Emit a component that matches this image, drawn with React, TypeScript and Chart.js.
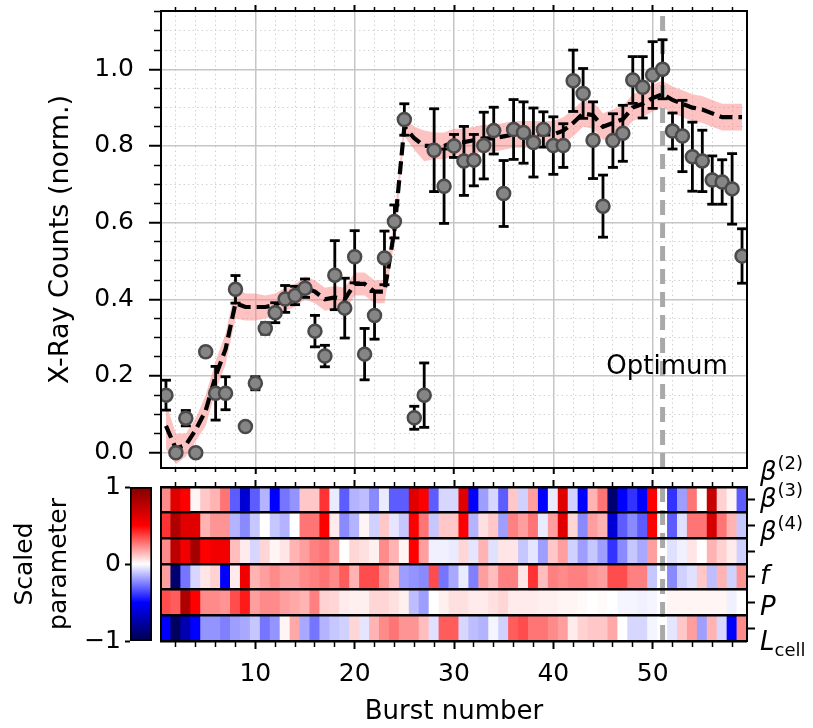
import React, { useEffect, useRef } from 'react';
import { Chart, registerables } from 'chart.js';

Chart.register(...registerables);
const FONT = "'DejaVu Sans', 'Noto Sans', sans-serif";
Chart.defaults.font.family = FONT;
Chart.defaults.color = '#000';

// ---------------- data ----------------
const bursts = [1, 2, 3, 4, 5, 6, 7, 8, 9, 10, 11, 12, 13, 14, 15, 16, 17, 18, 19, 20,
  21, 22, 23, 24, 25, 26, 27, 28, 29, 30, 31, 32, 33, 34, 35, 36, 37, 38, 39, 40,
  41, 42, 43, 44, 45, 46, 47, 48, 49, 50, 51, 52, 53, 54, 55, 56, 57, 58, 59];

const xrayCounts = [
  0.150, 0.000, 0.090, 0.000, 0.263, 0.155, 0.155, 0.426, 0.068, 0.181,
  0.324, 0.365, 0.401, 0.410, 0.429, 0.317, 0.252, 0.463, 0.377, 0.511,
  0.257, 0.358, 0.508, 0.603, 0.869, 0.091, 0.150, 0.789, 0.695, 0.800,
  0.761, 0.763, 0.801, 0.840, 0.676, 0.843, 0.835, 0.809, 0.843, 0.801,
  0.801, 0.970, 0.937, 0.815, 0.643, 0.814, 0.833, 0.972, 0.953, 0.985,
  1.000, 0.839, 0.826, 0.772, 0.761, 0.711, 0.706, 0.688, 0.513];

const xrayErr = [
  0.039, 0.000, 0.020, 0.000, 0.012, 0.070, 0.043, 0.036, 0.000, 0.017,
  0.015, 0.026, 0.035, 0.024, 0.024, 0.041, 0.028, 0.090, 0.078, 0.068,
  0.067, 0.062, 0.070, 0.043, 0.041, 0.030, 0.084, 0.108, 0.097, 0.030,
  0.090, 0.067, 0.087, 0.061, 0.086, 0.078, 0.080, 0.090, 0.046, 0.075,
  0.057, 0.080, 0.065, 0.100, 0.081, 0.070, 0.073, 0.061, 0.080, 0.087,
  0.077, 0.047, 0.093, 0.090, 0.080, 0.063, 0.058, 0.092, 0.071];

const modelMean = [
  0.07, 0.01, 0.02, 0.06, 0.11, 0.20, 0.27, 0.39, 0.38, 0.38,
  0.38, 0.385, 0.40, 0.41, 0.43, 0.42, 0.40, 0.405, 0.40, 0.44,
  0.44, 0.42, 0.42, 0.58, 0.85, 0.82, 0.80, 0.80, 0.80, 0.81,
  0.81, 0.815, 0.82, 0.82, 0.825, 0.83, 0.83, 0.83, 0.83, 0.83,
  0.84, 0.86, 0.885, 0.88, 0.85, 0.86, 0.87, 0.90, 0.91, 0.925,
  0.935, 0.92, 0.91, 0.90, 0.895, 0.885, 0.875, 0.875, 0.875];

const modelSpread = [
  0.06, 0.04, 0.03, 0.03, 0.04, 0.04, 0.04, 0.04, 0.035, 0.035,
  0.03, 0.03, 0.03, 0.03, 0.03, 0.03, 0.03, 0.03, 0.03, 0.03,
  0.03, 0.03, 0.03, 0.03, 0.025, 0.03, 0.04, 0.035, 0.035, 0.035,
  0.035, 0.035, 0.035, 0.035, 0.035, 0.035, 0.035, 0.035, 0.035, 0.035,
  0.035, 0.035, 0.035, 0.035, 0.035, 0.035, 0.035, 0.035, 0.035, 0.035,
  0.035, 0.035, 0.035, 0.035, 0.035, 0.035, 0.035, 0.035, 0.035];

const optimumBurst = 51;
const optimumLabel = 'Optimum';
const optimumLabelPos = { x: 51.45, y: 0.224 };

// scaled parameters (heatmap rows, top to bottom)
const beta2 = [
  0.23, 0.62, 0.50, 0.02, 0.11, 0.15, 0.27, -0.32, -0.62, -0.32,
  -0.15, -0.50, -0.27, -0.21, 0.11, 0.11, 0.40, -0.04, -0.32, -0.15,
  -0.13, -0.23, -0.04, -0.32, -0.32, 0.62, 0.50, -0.32, -0.08, -0.08,
  0.62, -0.50, -0.19, -0.08, -0.32, 0.11, -0.09, 0.19, -0.50, -0.04,
  0.62, -0.09, -0.50, 0.15, 0.27, -0.90, -0.50, -0.40, -0.50, 0.50,
  0.00, -0.40, -0.19, 0.27, 0.00, 0.72, 0.09, 0.02, -0.32];
const beta3 = [
  0.40, 0.82, 0.62, 0.62, 0.15, 0.21, 0.21, -0.15, -0.23, -0.11,
  0.00, -0.11, -0.15, 0.00, 0.27, 0.27, 0.50, 0.04, -0.23, -0.15,
  0.02, -0.09, 0.11, -0.05, -0.11, 0.50, 0.27, -0.11, 0.11, 0.11,
  0.50, -0.15, 0.06, 0.11, -0.19, 0.25, 0.19, 0.27, -0.04, 0.19,
  0.62, 0.08, -0.23, 0.19, 0.15, -0.62, -0.32, -0.23, -0.32, 0.50,
  0.00, -0.32, -0.06, 0.27, 0.27, 0.66, 0.27, 0.15, -0.11];
const beta4 = [
  0.23, 0.77, 0.55, 0.86, 0.50, 0.55, 0.55, 0.13, 0.04, -0.08,
  0.08, 0.02, 0.05, 0.15, 0.19, 0.25, 0.27, 0.19, 0.00, 0.08,
  0.06, 0.03, 0.23, 0.15, 0.02, 0.50, 0.19, -0.03, -0.03, -0.04,
  0.08, -0.05, 0.15, -0.06, 0.05, 0.05, -0.11, -0.05, -0.19, 0.11,
  0.19, -0.09, -0.19, -0.11, -0.19, -0.40, -0.23, -0.11, -0.17, 0.19,
  0.00, -0.06, -0.03, 0.05, 0.00, 0.15, 0.09, 0.04, -0.09];
const fParam = [
  0.19, -0.90, -0.27, -0.08, 0.05, 0.09, -0.50, 0.04, 0.55, 0.15,
  0.19, 0.23, 0.19, 0.19, 0.23, 0.25, 0.27, 0.23, 0.32, 0.15,
  0.35, 0.35, 0.21, 0.13, -0.19, -0.21, -0.23, 0.35, -0.27, -0.17,
  -0.04, -0.25, 0.19, 0.13, 0.25, 0.25, 0.05, 0.40, 0.13, 0.25,
  0.23, 0.25, 0.25, 0.21, 0.19, 0.35, 0.35, 0.25, 0.25, -0.11,
  0.00, -0.23, -0.09, -0.06, 0.11, -0.13, 0.15, -0.09, 0.21];
const pParam = [
  0.35, 0.32, 0.82, 0.50, 0.23, 0.23, 0.21, 0.35, 0.45, 0.19,
  0.23, 0.23, 0.19, 0.17, 0.15, 0.25, 0.09, 0.08, 0.04, 0.03,
  0.03, 0.08, 0.08, 0.06, 0.03, -0.13, -0.19, 0.00, 0.03, 0.06,
  0.06, 0.04, 0.04, 0.06, 0.08, 0.04, 0.04, 0.04, 0.03, 0.03,
  0.02, 0.02, 0.01, 0.00, 0.01, 0.00, -0.02, -0.02, -0.03, -0.02,
  0.00, 0.02, 0.02, 0.02, 0.02, 0.02, 0.02, -0.03, 0.00];
const lCell = [
  -0.50, -0.95, -0.72, -0.50, -0.21, -0.21, -0.25, -0.19, -0.17, -0.11,
  -0.27, -0.21, 0.02, 0.17, -0.17, -0.27, -0.15, -0.11, -0.09, 0.08,
  -0.05, 0.15, 0.23, 0.27, 0.21, 0.21, 0.13, -0.06, 0.32, 0.32,
  -0.08, -0.13, -0.15, -0.02, -0.09, 0.32, 0.35, 0.27, 0.27, 0.23,
  0.19, 0.04, 0.09, 0.11, 0.11, 0.17, 0.00, -0.08, -0.08, -0.02,
  0.00, -0.05, 0.11, 0.19, -0.19, 0.15, -0.08, -0.50, 0.23];
const paramRows = [beta2, beta3, beta4, fParam, pParam, lCell];
const paramRowIndex = [0, 1, 2, 3, 4, 5];
const paramRowEdges = [-0.5, 0.5, 1.5, 2.5, 3.5, 4.5, 5.5];

// ticks
const xMajorTicks = [10, 20, 30, 40, 50];
const xTickLabels = ['10', '20', '30', '40', '50'];
const xMinorTicks = [2, 4, 6, 8, 12, 14, 16, 18, 22, 24, 26, 28, 32, 34, 36, 38, 42, 44, 46, 48, 52, 54, 56, 58];
const yMajorTicks = [0, 0.2, 0.4, 0.6, 0.8, 1.0];
const yTickLabels = ['0.0', '0.2', '0.4', '0.6', '0.8', '1.0'];
const yMinorTicks = [0.05, 0.1, 0.15, 0.25, 0.3, 0.35, 0.45, 0.5, 0.55, 0.65, 0.7, 0.75, 0.85, 0.9, 0.95, 1.05, 1.1, 1.15];
const cbTicks = [-1, 0, 1];
const cbTickLabels = ['\u22121', '0', '1'];

// axis ranges
const X_MIN = 0.5, X_MAX = 59.5;
const Y_MIN = -0.04, Y_MAX = 1.152;

// ---------------- helpers ----------------
const SEISMIC: [number, number[]][] = [
  [0, [0, 0, 76.5]], [0.25, [0, 0, 255]], [0.5, [255, 255, 255]], [0.75, [255, 0, 0]], [1, [127.5, 0, 0]]];
function seismic(v: number): string {
  const t = Math.max(0, Math.min(1, (v + 1) / 2));
  for (let i = 1; i < SEISMIC.length; i++) {
    const [t1, c1] = SEISMIC[i];
    const [t0, c0] = SEISMIC[i - 1];
    if (t <= t1) {
      const f = (t - t0) / (t1 - t0);
      const c = c0.map((a, k) => Math.round(a + (c1[k] - a) * f));
      return `rgb(${c[0]},${c[1]},${c[2]})`;
    }
  }
  return 'rgb(127,0,0)';
}
const fixW = (w: number) => (s: any) => { s.width = w; s.paddingTop = 0; s.paddingBottom = 0; s.paddingLeft = 0; s.paddingRight = 0; };
const fixH = (h: number) => (s: any) => { s.height = h; s.paddingTop = 0; s.paddingBottom = 0; s.paddingLeft = 0; s.paddingRight = 0; };
const setTicks = (vals: number[]) => (s: any) => { s.ticks = vals.map((v) => ({ value: v })); };
const BORDER = { display: true, color: '#000', width: 2, z: 1 };
const NOBORDER = { display: false };
const MAJOR_GRID = '#c6c6c6';
const MINOR_GRID = '#d2d2d2';
const TICK_FONT = 25;

const optimumTextPlugin = {
  id: 'optimumText',
  afterDatasetsDraw(chart: any) {
    const { ctx, scales } = chart;
    ctx.save();
    ctx.font = `26px ${FONT}`;
    ctx.fillStyle = '#000';
    ctx.textAlign = 'center';
    ctx.textBaseline = 'middle';
    ctx.fillText(optimumLabel, scales.x.getPixelForValue(optimumLabelPos.x), scales.y.getPixelForValue(optimumLabelPos.y));
    ctx.restore();
  },
};

function topConfig(): any {
  const pts = bursts.map((b, i) => ({ x: b, y: xrayCounts[i] }));
  const stems: any[] = [];
  const caps: any[] = [];
  bursts.forEach((b, i) => {
    const lo = xrayCounts[i] - xrayErr[i];
    const hi = xrayCounts[i] + xrayErr[i];
    stems.push({ x: b, y: lo }, { x: b, y: hi }, { x: b, y: null });
    caps.push({ x: b, y: lo }, { x: b, y: hi });
  });
  const bandLo = bursts.map((b, i) => ({ x: b, y: modelMean[i] - modelSpread[i] }));
  const bandHi = bursts.map((b, i) => ({ x: b, y: modelMean[i] + modelSpread[i] }));
  const mean = bursts.map((b, i) => ({ x: b, y: modelMean[i] }));
  return {
    type: 'scatter',
    data: {
      datasets: [
        { type: 'line', data: bandLo, borderWidth: 0, pointRadius: 0, fill: false, order: 8 },
        { type: 'line', data: bandHi, borderWidth: 0, pointRadius: 0, fill: '-1', backgroundColor: 'rgba(250,128,128,0.47)', order: 7 },
        { type: 'line', data: [{ x: optimumBurst, y: Y_MIN }, { x: optimumBurst, y: Y_MAX }], borderColor: '#a9a9a9', borderWidth: 5, borderDash: [15, 8], pointRadius: 0, order: 6 },
        { type: 'line', data: mean, borderColor: '#000', borderWidth: 4.2, borderDash: [13, 6], pointRadius: 0, order: 5 },
        { type: 'line', data: stems, borderColor: '#000', borderWidth: 2.8, pointRadius: 0, spanGaps: false, order: 4 },
        { type: 'scatter', data: caps, pointStyle: 'line', pointRadius: 5, pointBorderColor: '#000', pointBorderWidth: 2.8, order: 3 },
        { type: 'scatter', data: pts, pointRadius: 6.5, pointBackgroundColor: '#858585', pointBorderColor: '#4a4a4a', pointBorderWidth: 2.5, order: 1 },
      ],
    },
    options: {
      responsive: false, maintainAspectRatio: false, animation: false, devicePixelRatio: 1, events: [],
      layout: { padding: 0 },
      plugins: { legend: { display: false }, tooltip: { enabled: false } },
      scales: {
        x: {
          type: 'linear', position: 'bottom', min: X_MIN, max: X_MAX, weight: 2, offset: false,
          afterBuildTicks: setTicks(xMajorTicks), ticks: { display: false },
          grid: { color: MAJOR_GRID, lineWidth: 1.5, tickLength: 6, tickColor: '#000', tickWidth: 2, offset: false },
          border: BORDER, afterFit: fixH(260),
        },
        xMinor: {
          type: 'linear', position: 'bottom', min: X_MIN, max: X_MAX, weight: 1, offset: false,
          afterBuildTicks: setTicks(xMinorTicks), ticks: { display: false },
          grid: { color: MINOR_GRID, lineWidth: 1, tickLength: 4, tickColor: '#000', tickWidth: 1.5, borderDash: [1.5, 3], offset: false },
          border: { display: false, dash: [1.5, 3] }, afterFit: fixH(0),
        },
        xTop: {
          type: 'linear', position: 'top', min: X_MIN, max: X_MAX, weight: 2, offset: false,
          afterBuildTicks: setTicks(xMajorTicks), ticks: { display: false },
          grid: { drawOnChartArea: false, tickLength: 6, tickColor: '#000', tickWidth: 2 },
          border: BORDER, afterFit: fixH(11),
        },
        xTopMinor: {
          type: 'linear', position: 'top', min: X_MIN, max: X_MAX, weight: 1, offset: false,
          afterBuildTicks: setTicks(xMinorTicks), ticks: { display: false },
          grid: { drawOnChartArea: false, tickLength: 4, tickColor: '#000', tickWidth: 1.5 },
          border: NOBORDER, afterFit: fixH(0),
        },
        y: {
          type: 'linear', position: 'left', min: Y_MIN, max: Y_MAX, weight: 2,
          afterBuildTicks: setTicks(yMajorTicks),
          ticks: { display: true, autoSkip: false, font: { size: TICK_FONT }, color: '#000', padding: 15, callback: (_v: any, i: number) => yTickLabels[i] },
          grid: { color: MAJOR_GRID, lineWidth: 1.5, tickLength: 12, tickColor: '#000', tickWidth: 2 },
          border: BORDER,
          title: { display: true, text: 'X-Ray Counts (norm.)', font: { size: 27 }, color: '#000', padding: { top: 45, bottom: 0 } },
          afterFit: fixW(161),
        },
        yMinor: {
          type: 'linear', position: 'left', min: Y_MIN, max: Y_MAX, weight: 1,
          afterBuildTicks: setTicks(yMinorTicks), ticks: { display: false },
          grid: { color: MINOR_GRID, lineWidth: 1, tickLength: 7, tickColor: '#000', tickWidth: 1.5, borderDash: [1.5, 3] },
          border: { display: false, dash: [1.5, 3] }, afterFit: fixW(0),
        },
        yR: {
          type: 'linear', position: 'right', min: Y_MIN, max: Y_MAX,
          ticks: { display: false }, grid: { drawOnChartArea: false, drawTicks: false },
          border: BORDER, afterFit: fixW(66),
        },
      },
    },
    plugins: [optimumTextPlugin],
  };
}

function heatmapConfig(): any {
  const rowSets = paramRows.map((vals, r) => ({
    type: 'bar',
    data: bursts.map((b) => ({ x: b, y: [paramRowIndex[r] - 0.5, paramRowIndex[r] + 0.5] })),
    backgroundColor: vals.map(seismic),
    borderWidth: 0, grouped: false, barPercentage: 1, categoryPercentage: 1, inflateAmount: 0.5, order: 2,
  }));
  return {
    type: 'bar',
    data: {
      datasets: [
        ...rowSets,
        { type: 'line', data: [{ x: optimumBurst, y: -0.5 }, { x: optimumBurst, y: 5.5 }], borderColor: '#a9a9a9', borderWidth: 5, borderDash: [15, 8], pointRadius: 0, order: 1 },
      ],
    },
    options: {
      responsive: false, maintainAspectRatio: false, animation: false, devicePixelRatio: 1, events: [],
      layout: { padding: 0 },
      plugins: { legend: { display: false }, tooltip: { enabled: false } },
      scales: {
        x: {
          type: 'linear', position: 'bottom', min: X_MIN, max: X_MAX, weight: 2, offset: false,
          afterBuildTicks: setTicks(xMajorTicks),
          ticks: { display: true, autoSkip: false, maxRotation: 0, font: { size: TICK_FONT }, color: '#000', padding: 10, callback: (_v: any, i: number) => xTickLabels[i] },
          grid: { drawOnChartArea: false, tickLength: 8, tickColor: '#000', tickWidth: 2, offset: false },
          border: BORDER,
          title: { display: true, text: 'Burst number', font: { size: 26 }, color: '#000', padding: { top: 0, bottom: 0 } },
          afterFit: fixH(87),
        },
        xMinor: {
          type: 'linear', position: 'bottom', min: X_MIN, max: X_MAX, weight: 1, offset: false,
          afterBuildTicks: setTicks(xMinorTicks), ticks: { display: false },
          grid: { drawOnChartArea: false, tickLength: 6, tickColor: '#000', tickWidth: 1.5, offset: false },
          border: NOBORDER, afterFit: fixH(0),
        },
        xTop: {
          type: 'linear', position: 'top', min: X_MIN, max: X_MAX, weight: 2, offset: false,
          afterBuildTicks: setTicks(xMajorTicks), ticks: { display: false },
          grid: { drawOnChartArea: false, tickLength: 7, tickColor: '#000', tickWidth: 2, offset: false },
          border: BORDER, afterFit: fixH(487),
        },
        xTopMinor: {
          type: 'linear', position: 'top', min: X_MIN, max: X_MAX, weight: 1, offset: false,
          afterBuildTicks: setTicks(xMinorTicks), ticks: { display: false },
          grid: { drawOnChartArea: false, tickLength: 5, tickColor: '#000', tickWidth: 1.5, offset: false },
          border: NOBORDER, afterFit: fixH(0),
        },
        y: {
          type: 'linear', position: 'left', min: -0.5, max: 5.5, reverse: true, weight: 2,
          afterBuildTicks: setTicks(paramRowEdges), ticks: { display: false },
          grid: { color: '#000', lineWidth: 2.5, drawTicks: false, z: 1 },
          border: BORDER, afterFit: fixW(161),
        },
        yR: {
          type: 'linear', position: 'right', min: -0.5, max: 5.5, reverse: true,
          afterBuildTicks: setTicks(paramRowIndex), ticks: { display: false },
          grid: { drawOnChartArea: false, tickLength: 8, tickColor: '#000', tickWidth: 2 },
          border: BORDER, afterFit: fixW(66),
        },
      },
    },
  };
}

function colorbarConfig(): any {
  const gradient = (ctx: any) => {
    const chart = ctx.chart;
    const ys = chart.scales && chart.scales.y;
    if (!chart.chartArea || !ys) return '#fff';
    const g = chart.ctx.createLinearGradient(0, ys.getPixelForValue(-1), 0, ys.getPixelForValue(1));
    SEISMIC.forEach(([t, c]) => g.addColorStop(t, `rgb(${c[0]},${c[1]},${c[2]})`));
    return g;
  };
  return {
    type: 'bar',
    data: {
      labels: ['scale'],
      datasets: [{ data: [[-1, 1]], backgroundColor: gradient, borderColor: '#000', borderWidth: 2, borderSkipped: false, barPercentage: 1, categoryPercentage: 1 }],
    },
    options: {
      responsive: false, maintainAspectRatio: false, animation: false, devicePixelRatio: 1, events: [],
      layout: { padding: { top: 487, right: 661, left: 0, bottom: 0 } },
      plugins: { legend: { display: false }, tooltip: { enabled: false } },
      scales: {
        x: { ticks: { display: false }, grid: { display: false }, border: NOBORDER, afterFit: fixH(87) },
        y: {
          type: 'linear', min: -1, max: 1, afterBuildTicks: setTicks(cbTicks),
          ticks: { display: true, autoSkip: false, font: { size: TICK_FONT }, color: '#000', padding: 4, callback: (_v: any, i: number) => cbTickLabels[i] },
          grid: { drawOnChartArea: false, tickLength: 5, tickColor: '#000', tickWidth: 2 },
          border: NOBORDER,
          title: { display: true, text: ['Scaled', 'parameter'], font: { size: 25, lineHeight: 1.35 }, color: '#000', padding: { top: 9, bottom: 0 } },
          afterFit: fixW(130),
        },
      },
    },
  };
}

const paramLabels = [
  { main: '\u03B2', sup: '(2)', top: 458 },
  { main: '\u03B2', sup: '(3)', top: 485 },
  { main: '\u03B2', sup: '(4)', top: 518 },
  { main: 'f', top: 562 },
  { main: 'P', top: 593 },
  { main: 'L', sub: 'cell', top: 628 },
];

export default function App() {
  const topRef = useRef<HTMLCanvasElement>(null);
  const hmRef = useRef<HTMLCanvasElement>(null);
  const cbRef = useRef<HTMLCanvasElement>(null);
  useEffect(() => {
    const charts = [
      new Chart(topRef.current as HTMLCanvasElement, topConfig()),
      new Chart(hmRef.current as HTMLCanvasElement, heatmapConfig()),
      new Chart(cbRef.current as HTMLCanvasElement, colorbarConfig()),
    ];
    return () => charts.forEach((c) => c.destroy());
  }, []);
  const cs: React.CSSProperties = { position: 'absolute', left: 0, top: 0 };
  return (
    <div style={{ position: 'fixed', left: 0, top: 0, width: 813, height: 728, background: '#fff', overflow: 'hidden' }}>
      <canvas ref={topRef} width={813} height={728} style={cs} />
      <canvas ref={hmRef} width={813} height={728} style={cs} />
      <canvas ref={cbRef} width={813} height={728} style={cs} />
      {paramLabels.map((l, i) => (
        <div key={i} style={{ position: 'absolute', left: 760, top: l.top, fontFamily: FONT, fontSize: 26, lineHeight: '26px', color: '#000', whiteSpace: 'nowrap' }}>
          <span style={{ fontStyle: 'italic' }}>{l.main}</span>
          {l.sup ? <span style={{ fontSize: 18, position: 'relative', top: -11, marginLeft: 1 }}>{l.sup}</span> : null}
          {l.sub ? <span style={{ fontSize: 18, position: 'relative', top: 6 }}>{l.sub}</span> : null}
        </div>
      ))}
    </div>
  );
}
